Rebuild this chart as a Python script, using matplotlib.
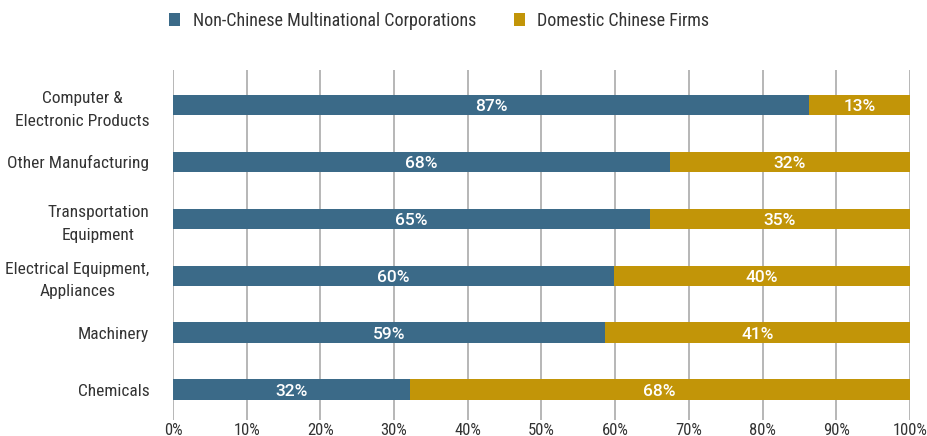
import matplotlib.pyplot as plt
from matplotlib import font_manager

names = {f.name for f in font_manager.fontManager.ttflist}
prefer = ["Roboto Condensed", "Archivo Narrow", "PT Sans Narrow", "Liberation Sans Narrow",
          "Fira Sans Condensed", "IBM Plex Sans Condensed", "Roboto"]
narrow = next((n for n in prefer if n in names), "DejaVu Sans")

categories = ["Computer &\nElectronic Products", "Other Manufacturing",
              "Transportation\nEquipment", "Electrical Equipment,\nAppliances",
              "Machinery", "Chemicals"]
foreign = [86.3, 67.4, 64.7, 59.8, 58.6, 32.1]
domestic = [13.7, 32.6, 35.3, 40.2, 41.4, 67.9]
foreign_labels = ["87%", "68%", "65%", "60%", "59%", "32%"]
domestic_labels = ["13%", "32%", "35%", "40%", "41%", "68%"]

blue = "#3b6a88"
gold = "#c29508"
txt = "#333333"

plt.rcParams["font.family"] = [narrow, "DejaVu Sans"]

fig = plt.figure(figsize=(9.27, 4.36), dpi=100)
ax = fig.add_axes([0.1866, 0.037, 0.795, 0.802])

y = list(range(len(categories)))
ax.barh(y, foreign, height=0.36, color=blue, label="Non-Chinese Multinational Corporations", zorder=3)
ax.barh(y, domestic, left=foreign, height=0.36, color=gold, label="Domestic Chinese Firms", zorder=3)

for i in y:
    ax.text(foreign[i] / 2, i + 0.03, foreign_labels[i], color="white", ha="center", va="center",
            fontsize=12.5, fontweight=500, family=["Roboto", "DejaVu Sans"], zorder=4)
    ax.text(foreign[i] + domestic[i] / 2, i + 0.03, domestic_labels[i], color="white", ha="center",
            va="center", fontsize=12.5, fontweight=500, family=["Roboto", "DejaVu Sans"], zorder=4)

ax.set_xlim(0, 100)
ax.set_ylim(5.53, -0.61)
ax.set_xticks(range(0, 101, 10))
ax.set_xticklabels([f"{v}%" for v in range(0, 101, 10)], fontsize=12, color=txt)
ax.set_yticks(y)
ax.set_yticklabels(categories, fontsize=12.5, color=txt, multialignment="center", linespacing=1.6)
ax.tick_params(length=0)
ax.tick_params(axis="x", pad=2)
ax.tick_params(axis="y", pad=17)
ax.grid(axis="x", color="#aaaaaa", linewidth=1.2, zorder=0)
for s in ax.spines.values():
    s.set_visible(False)

fig.legend(loc="upper center", bbox_to_anchor=(0.474, 1.01), ncol=2, frameon=False,
           fontsize=13, handlelength=0.6, handleheight=0.7, columnspacing=2.1,
           handletextpad=0.7, labelcolor=txt)

fig.savefig("out.png", dpi=100)
